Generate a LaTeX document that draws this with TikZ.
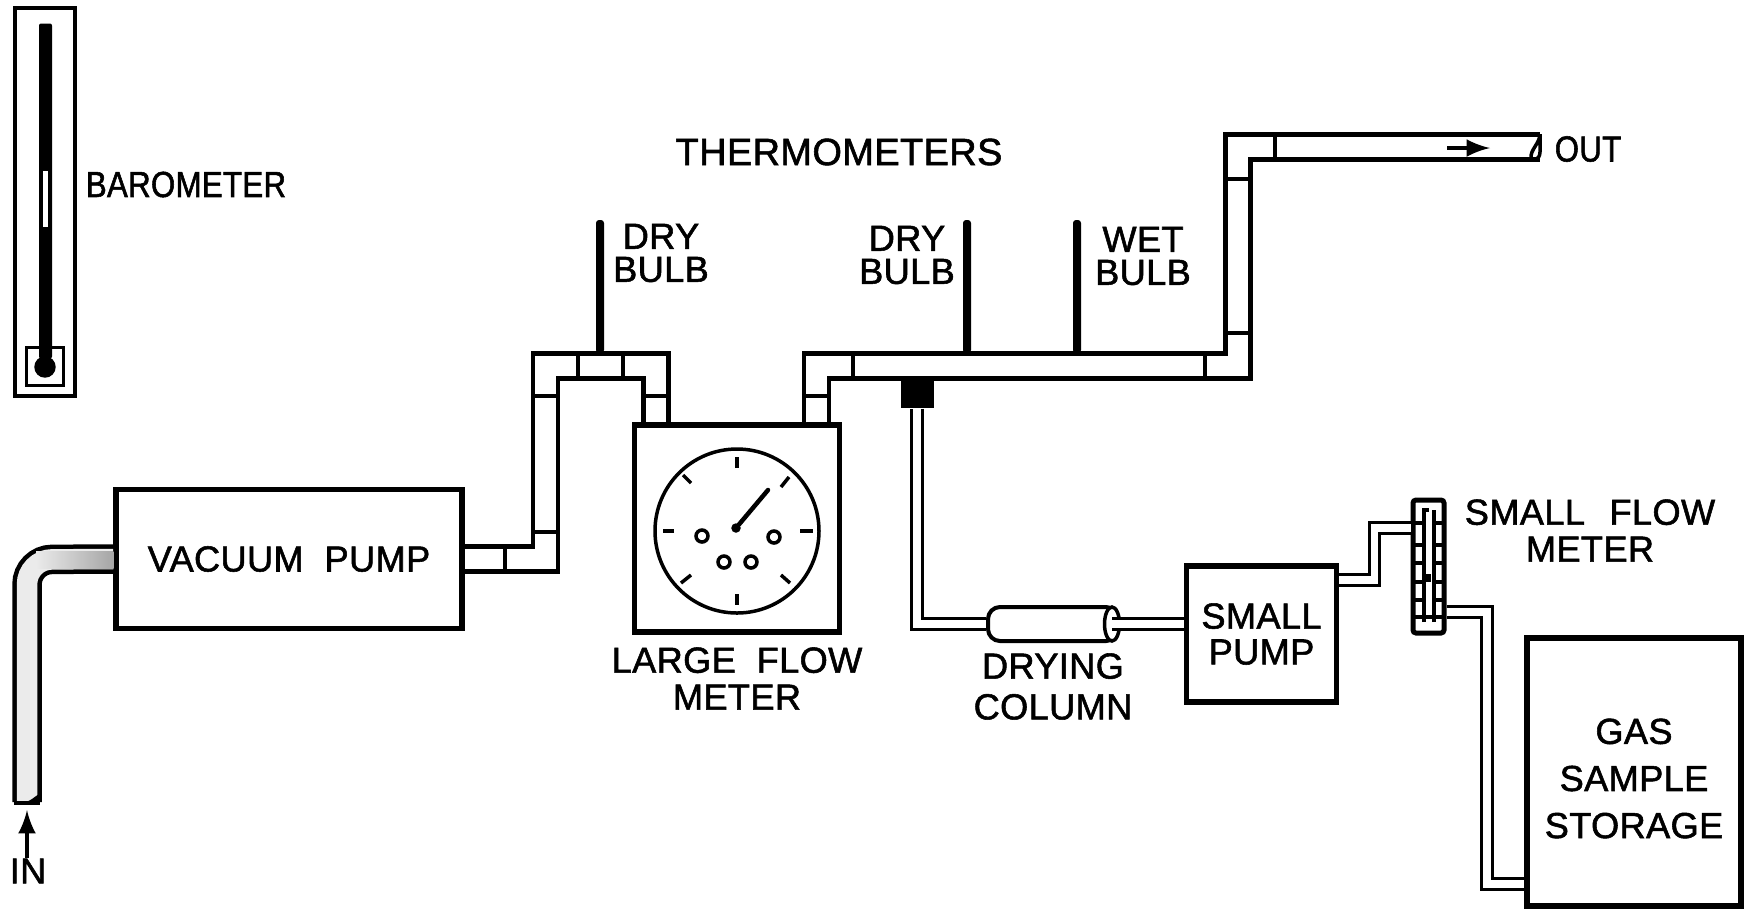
\documentclass[tikz,border=0pt]{standalone}
\usepackage{fontspec}
\usetikzlibrary{shapes.geometric}
\newfontfamily\lblfamily[LetterSpace=1,FakeBold=1.5]{Liberation Sans}
\newfontfamily\narrowfamily[FakeStretch=0.86,LetterSpace=1,FakeBold=1.5]{Liberation Sans}
\tikzset{
    lbl/.style={font=\lblfamily\fontsize{10.3}{9.4}\selectfont, align=center, inner sep=0pt},
    box/.style={lbl, draw, line width=0.55mm, minimum width=#1},
    pipe/.style={line width=0.45mm, double, double distance=2.05mm},
    tube/.style={line width=0.33mm, double, double distance=0.72mm},
    joint/.style={line width=0.35mm},
    tick/.style={line width=0.35mm},
    knob/.style={draw, circle, line width=0.35mm, minimum size=1.2mm, inner sep=0pt},
    solid/.style={fill=black, inner sep=0pt, minimum width=#1}
}
\begin{document}
\begin{tikzpicture}[x=0.1mm, y=-0.1mm]
    \useasboundingbox (0,0) rectangle (1750,910);

    \node[draw, line width=0.45mm, minimum width=6mm, minimum height=38.8mm] (baroframe) at (45,202) {};
    \node[draw, line width=0.3mm, minimum width=3.7mm, minimum height=3.8mm] (barowell) at (45,366.5) {};
    \node[solid=1.3mm, minimum height=33.5mm, rounded corners=0.2mm] (barotube) at (45.5,191) {};
    \node[draw, fill=black, circle, minimum size=2mm, inner sep=0pt] (barobulb) at (45,367) {};
    \node[fill=white, inner sep=0pt, minimum width=0.5mm, minimum height=5.6mm] (baroslit) at (45.5,199) {};
    \node[lbl, font=\narrowfamily\fontsize{10.3}{9.4}\selectfont] (barolabel) at (186,184.5) {BAROMETER};

    \node[box=34.6mm, minimum height=13.9mm] (vacuum) at (289,559) {VACUUM~~PUMP};
    \node[box=20.5mm, minimum height=20.7mm] (meter) at (737,528.5) {};
    \node[draw, circle, line width=0.35mm, minimum size=16.4mm] (dial) at (737,531) {};
    \node[lbl, below of=meter, node distance=15mm] (meterlabel) {LARGE~~FLOW\\[1.1pt]METER};
    \node[box=15mm, minimum height=13.6mm] (smallpump) at (1261.5,634) {SMALL\\[0.8pt]PUMP};
    \node[box=21.4mm, minimum height=26.8mm] (storage) at (1634,772) {};
    \node[lbl] (storagelabel) at (1634,778.5) {GAS\\[4pt]SAMPLE\\[4pt]STORAGE};
    \node[draw, line width=0.5mm, minimum width=3.1mm, minimum height=13.3mm, rounded corners=0.3mm] (smallmeter) at (1428.5,566.5) {};
    \node[lbl] (smallmeterlabel) at (1590,530.5) {SMALL\hspace{7pt}FLOW\\[1.1pt]METER};

    \node[draw, line width=0.4mm, minimum width=13mm, minimum height=3.4mm, rounded corners=1.2mm] (column) at (1053,624) {};
    \node[draw, fill=white, ellipse, line width=0.35mm, minimum width=1.5mm, minimum height=3.4mm, inner sep=0pt] (columncap) at (1112,624) {};
    \node[lbl, below of=column, node distance=6.25mm] (columnlabel) {DRYING\\[2.2pt]COLUMN};

    \coordinate (inend) at (27,802);
    \coordinate (inbend) at (27,559.5);
    \coordinate (riser) at (545.5,366);
    \coordinate (drop) at (656,366);
    \coordinate (outrise) at (816.5,366);
    \coordinate (stack) at (1238,366);
    \coordinate (outend) at (1540,147);
    \coordinate (pumpout) at (1374.5,580);
    \coordinate (meterin) at (1374.5,528);
    \coordinate (meterout) at (1487,612);
    \coordinate (storein) at (1487,884);

    \draw[pipe, double=black!8, rounded corners=2.5mm] (inend) -- (inbend) -- (vacuum.west);
    \fill[left color=black!8, right color=black!35] (36,551) rectangle (vacuum.west |- 0,568);
    \draw[pipe] (vacuum.east) -| (riser) -| (drop |- meter.north);
    \draw[pipe] (outrise |- meter.north) |- (stack) |- (outend);

    \node[solid=3.3mm, minimum height=2.9mm] (block) at (917,393.5) {};
    \draw[tube] (block.south) |- (column.west);
    \draw[tube] (columncap.center) -- (smallpump.west |- columncap);
    \draw[tube] (smallpump.east |- pumpout) -| (meterin) -- (smallmeter.west |- meterin);
    \draw[tube] (smallmeter.east |- meterout) -| (storein) -- (storage.west |- storein);

    \node[solid=0.8mm, minimum height=13.3mm, rounded corners=0.3mm] (drya) at (600,286.5) {};
    \node[solid=0.8mm, minimum height=13.3mm, rounded corners=0.3mm] (dryb) at (967,286.5) {};
    \node[solid=0.8mm, minimum height=13.3mm, rounded corners=0.3mm] (wet) at (1077,286.5) {};
    \node[lbl] (dryalabel) at (661,253) {DRY\\BULB};
    \node[lbl] (dryblabel) at (907,255) {DRY\\BULB};
    \node[lbl] (wetlabel) at (1143,256) {WET\\BULB};
    \node[lbl, font=\lblfamily\fontsize{10.8}{9.4}\selectfont] (thermolabel) at (839,152) {THERMOMETERS};

    \draw[joint] (505,547) -- (505,572);
    \draw[joint] (533,532) -- (558,532);
    \draw[joint] (533,396) -- (558,396);
    \draw[joint] (578,353) -- (578,379);
    \draw[joint] (623,353) -- (623,379);
    \draw[joint] (642,396) -- (670,396);
    \draw[joint] (803,396) -- (830,396);
    \draw[joint] (853,353) -- (853,379);
    \draw[joint] (1205,353) -- (1205,379);
    \draw[joint] (1225,333) -- (1251,333);
    \draw[joint] (1225,179) -- (1251,179);
    \draw[joint] (1275,134) -- (1275,160);

    \draw[tick] (737,468) -- (737,457);
    \draw[tick] (737,594) -- (737,605);
    \draw[tick] (800,531) -- (813,531);
    \draw[tick] (674,531) -- (663,531);
    \draw[tick] (781,487) -- (789,477);
    \draw[tick] (691,483) -- (683,475);
    \draw[tick] (781,575) -- (790,583);
    \draw[tick] (691,575) -- (681,583);

    \node[draw, fill=black, circle, minimum size=0.8mm, inner sep=0pt] (hub) at (736,528) {};
    \coordinate (needletip) at (768,490);
    \draw[line width=0.45mm, line cap=round] (hub) -- (needletip);
    \node[knob] (knoba) at (702,536) {};
    \node[knob] (knobb) at (774,537) {};
    \node[knob] (knobc) at (724,562) {};
    \node[knob] (knobd) at (751,562) {};

    \draw[line width=0.33mm] (1424,622) -- (1424,510) -- (1429,510);
    \draw[line width=0.33mm] (1434,622) -- (1434,510);
    \draw[joint] (1414,523) -- (1424,523) (1434,523) -- (1444,523);
    \draw[joint] (1414,545) -- (1424,545) (1434,545) -- (1444,545);
    \draw[joint] (1414,563) -- (1424,563) (1434,563) -- (1444,563);
    \draw[joint] (1414,582) -- (1424,582) (1434,582) -- (1444,582);
    \draw[joint] (1414,600) -- (1424,600) (1434,600) -- (1444,600);
    \draw[joint] (1414,617) -- (1444,617);
    \node[solid=0.6mm, minimum height=0.8mm] (float) at (1428,578) {};

    \draw[line width=0.4mm] (14,803) -- (40,803);
    \fill (22,803) .. controls (30,802) and (34,797) .. (39,794) -- (39,803) -- cycle;
    \node[lbl] (inlabel) at (28,871) {IN};
    \coordinate (intip) at (27,810);
    \draw[-latex, line width=0.45mm] (inlabel.north -| intip) -- (intip);

    \node[lbl, font=\narrowfamily\fontsize{10.3}{9.4}\selectfont] (outlabel) at (1588,149) {OUT};
    \coordinate (flowtail) at (1447,148);
    \coordinate (flowhead) at (1490,148);
    \draw[-latex, line width=0.45mm] (flowtail) -- (flowhead);
    \draw[line width=0.35mm] (1540,134) .. controls (1540,143) and (1530,150) .. (1531,158) .. controls (1532,162) and (1540,160) .. (1540,152) -- (1540,134);
\end{tikzpicture}
\end{document}
